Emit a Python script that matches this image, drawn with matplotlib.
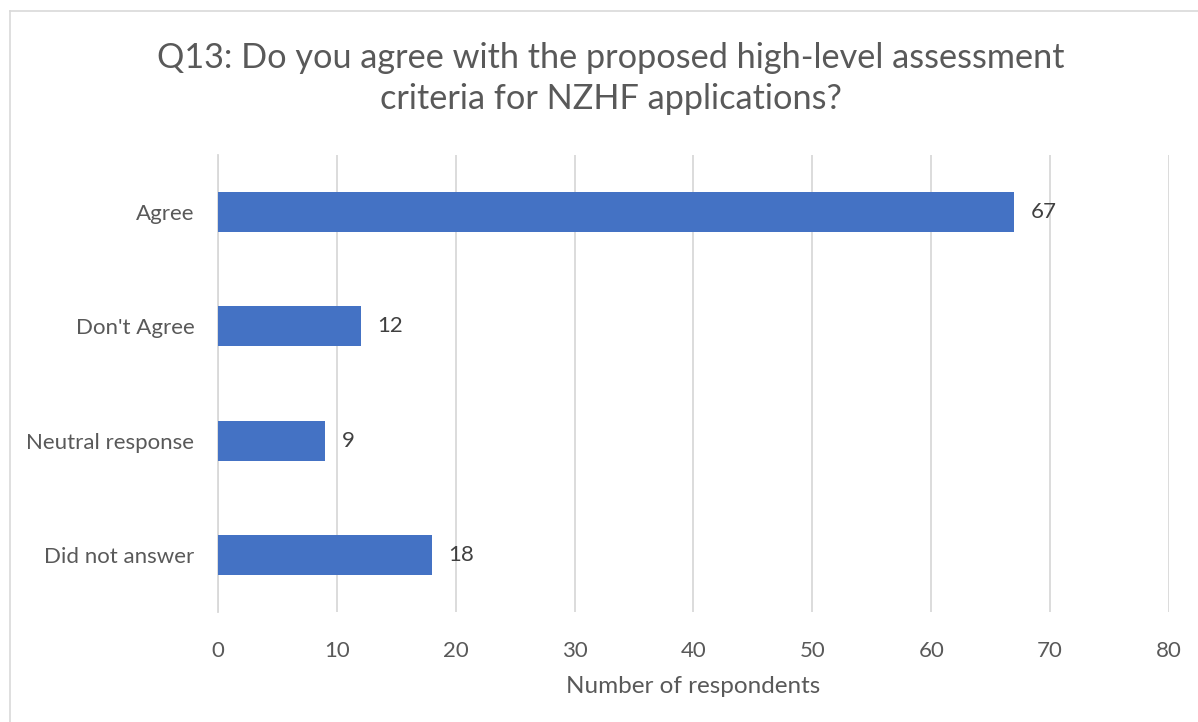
import matplotlib
matplotlib.use("Agg")
import matplotlib.pyplot as plt
from matplotlib.lines import Line2D

categories = ["Agree", "Don't Agree", "Neutral response", "Did not answer"]
respondents = [67, 12, 9, 18]
x_ticks = [0, 10, 20, 30, 40, 50, 60, 70, 80]

plt.rcParams["font.family"] = ["Lato", "DejaVu Sans"]
TEXT = "#595959"
GRID = "#d9d9d9"
BAR = "#4472c4"

W, H = 1198, 722
fig = plt.figure(figsize=(W / 100, H / 100), dpi=100)
fig.patch.set_facecolor("white")

# chart frame (top and left edges visible)
fig.add_artist(Line2D([10 / W, 10 / W], [0, 1 - 11 / H], color=GRID, lw=1.2, transform=fig.transFigure))
fig.add_artist(Line2D([10 / W, 1], [1 - 11 / H, 1 - 11 / H], color=GRID, lw=1.2, transform=fig.transFigure))

left, right = 218 / W, 1169 / W
bottom, top = 1 - 612 / H, 1 - 155 / H
ax = fig.add_axes([left, bottom, right - left, top - bottom])

ypos = list(range(len(categories)))
ax.barh(ypos, respondents, height=0.35, color=BAR, zorder=3)
ax.set_ylim(len(categories) - 0.5, -0.5)
ax.set_xlim(0, 80)
ax.set_xticks(x_ticks)
ax.set_xticklabels([str(t) for t in x_ticks])
ax.set_yticks(ypos)
ax.set_yticklabels(categories)

for y, v in zip(ypos, respondents):
    ax.annotate(str(v), (v, y), xytext=(12, 0), textcoords="offset points",
                va="center", ha="left", fontsize=16, color="#404040")

ax.grid(axis="x", color=GRID, lw=1.3, zorder=0)
for s in ["top", "right", "bottom"]:
    ax.spines[s].set_visible(False)
ax.spines["left"].set_color(GRID)
ax.spines["left"].set_linewidth(1.3)
ax.tick_params(axis="both", length=0, labelsize=16, labelcolor=TEXT)
ax.tick_params(axis="x", pad=21)
ax.tick_params(axis="y", pad=17)

ax.set_xlabel("Number of respondents", fontsize=17.5, color=TEXT, labelpad=11)

fig.text(611 / W, 1 - 78.5 / H,
         "Q13: Do you agree with the proposed high-level assessment\ncriteria for NZHF applications?",
         ha="center", va="center", fontsize=24.7, color=TEXT, linespacing=1.34)

fig.savefig("out.png", dpi=100, facecolor="white")
